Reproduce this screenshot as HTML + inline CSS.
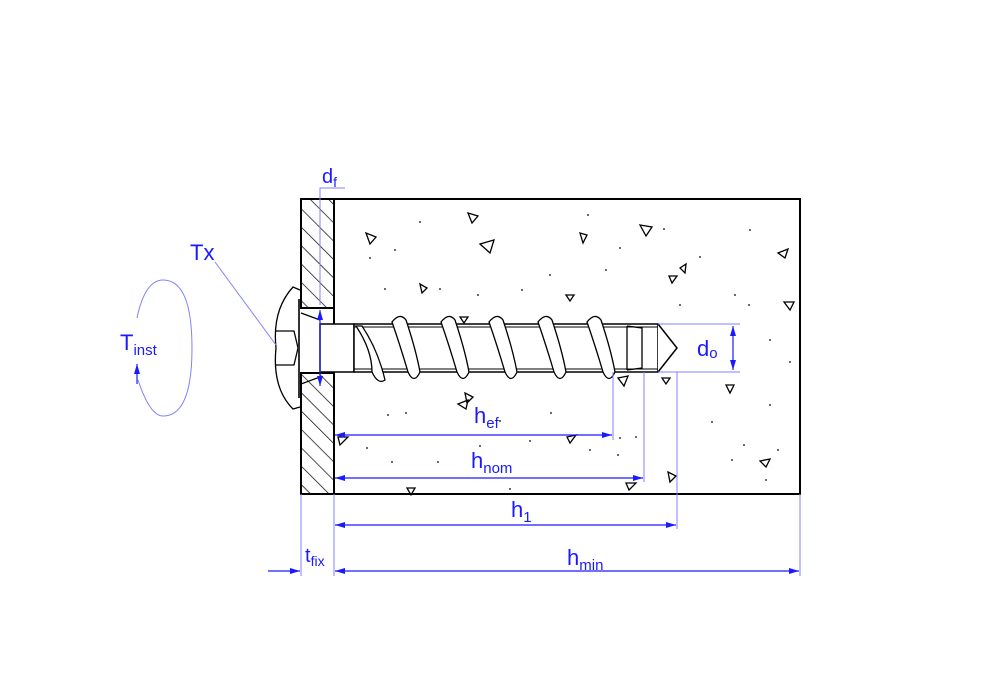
<!DOCTYPE html><html><head><style>body{margin:0;background:#fff}svg{display:block}text{font-family:"Liberation Sans",sans-serif;fill:#1a1aff}</style></head><body>
<svg width="1000" height="700" viewBox="0 0 1000 700" xmlns="http://www.w3.org/2000/svg">
<defs>
<pattern id="h" width="13" height="13" patternUnits="userSpaceOnUse" patternTransform="rotate(-45)"><line x1="0" y1="0" x2="0" y2="13" stroke="#000" stroke-width="1.4"/></pattern>
<marker id="a" viewBox="0 0 10 6" refX="10" refY="3" markerWidth="16" markerHeight="6" markerUnits="userSpaceOnUse" orient="auto-start-reverse"><path d="M0,0L10,3L0,6z" fill="#1a1aff"/></marker>
</defs>
<rect x="334" y="199" width="466" height="295" fill="#fff" stroke="#000" stroke-width="2"/>
<rect x="301" y="199" width="33" height="109" fill="url(#h)" stroke="#000" stroke-width="2"/>
<rect x="301" y="373" width="33" height="121" fill="url(#h)" stroke="#000" stroke-width="2"/>
<g fill="none" stroke="#000" stroke-width="1.3">
<path d="M366,233l10,4-6,7z"/><path d="M468,213l10,3-6,7z"/><path d="M480,244l14,-4-4,13z"/><path d="M580,233l7,2-4,8z"/><path d="M640,225l12,2-6,9z"/><path d="M680,268l6,-4-1,9z"/><path d="M669,276l8,0-5,7z"/><path d="M778,253l10,-4-3,9z"/><path d="M420,284l7,4-5,5z"/><path d="M566,295l8,0-4,6z"/><path d="M784,302l10,0-4,8z"/><path d="M460,317l8,0-4,6z"/><path d="M726,385l8,0-4,8z"/><path d="M465,393l8,4-6,6z"/><path d="M458,404l10,-4-2,9z"/><path d="M618,378l10,-2-4,10z"/><path d="M662,378l8,0-4,6z"/><path d="M338,437l10,0-8,8z"/><path d="M567,437l9,-2-6,8z"/><path d="M626,483l10,0-7,7z"/><path d="M668,472l8,4-6,6z"/><path d="M407,488l8,0-4,7z"/><path d="M760,461l10,-2-4,8z"/>
</g>
<g fill="#000">
<circle cx="370" cy="258" r=".9"/><circle cx="395" cy="250" r=".9"/><circle cx="420" cy="222" r=".9"/><circle cx="385" cy="289" r=".9"/><circle cx="440" cy="289" r=".9"/><circle cx="522" cy="290" r=".9"/><circle cx="550" cy="275" r=".9"/><circle cx="588" cy="215" r=".9"/><circle cx="620" cy="248" r=".9"/><circle cx="664" cy="229" r=".9"/><circle cx="700" cy="257" r=".9"/><circle cx="750" cy="230" r=".9"/><circle cx="749" cy="305" r=".9"/><circle cx="735" cy="295" r=".9"/><circle cx="680" cy="305" r=".9"/><circle cx="606" cy="270" r=".9"/><circle cx="478" cy="295" r=".9"/><circle cx="388" cy="415" r=".9"/><circle cx="406" cy="413" r=".9"/><circle cx="500" cy="421" r=".9"/><circle cx="551" cy="413" r=".9"/><circle cx="620" cy="438" r=".9"/><circle cx="712" cy="422" r=".9"/><circle cx="744" cy="445" r=".9"/><circle cx="770" cy="405" r=".9"/><circle cx="367" cy="448" r=".9"/><circle cx="392" cy="462" r=".9"/><circle cx="438" cy="462" r=".9"/><circle cx="480" cy="446" r=".9"/><circle cx="530" cy="441" r=".9"/><circle cx="590" cy="450" r=".9"/><circle cx="618" cy="455" r=".9"/><circle cx="636" cy="437" r=".9"/><circle cx="732" cy="460" r=".9"/><circle cx="778" cy="450" r=".9"/><circle cx="510" cy="489" r=".9"/><circle cx="766" cy="480" r=".9"/><circle cx="770" cy="340" r=".9"/><circle cx="790" cy="362" r=".9"/>
</g>
<path d="M300,290 L293,287 Q272,310 276,348 Q272,388 293,409 L300,407" fill="#fff" stroke="#000" stroke-width="1.3"/>
<path d="M276,331 L294,331 L298,348 L294,365 L276,365" fill="none" stroke="#000" stroke-width="1.3"/>
<line x1="299" y1="299" x2="299" y2="398" stroke="#333" stroke-width="2"/>
<path d="M301,313 L320,320 M301,384 L320,377" stroke="#000" stroke-width="1.2"/>
<rect x="320" y="324" width="34" height="48" fill="#fff" stroke="#000" stroke-width="1.5"/>
<rect x="354" y="324" width="304" height="48" fill="#fff" stroke="#000" stroke-width="1.5"/>
<line x1="354" y1="327" x2="658" y2="327" stroke="#000"/><line x1="354" y1="369" x2="658" y2="369" stroke="#000"/>
<path d="M658,324 L677,348 L658,372" fill="#fff" stroke="#000" stroke-width="1.5"/>
<path d="M627,326 L642,328 L642,368 L627,370 M627,326 L627,370" fill="none" stroke="#000" stroke-width="1.3"/>
<g fill="#fff" stroke="#000" stroke-width="1.3">
<path d="M356,326 Q372,350 372,372 Q378,385 385,380 Q378,350 362,326z"/>
<path d="M392,322 Q400,312 406,320 Q416,350 420,372 Q414,385 408,372 Q400,345 392,322z"/>
<path d="M441,322 Q449,312 455,320 Q465,350 469,372 Q463,385 457,372 Q449,345 441,322z"/>
<path d="M489,322 Q497,312 503,320 Q513,350 517,372 Q511,385 505,372 Q497,345 489,322z"/>
<path d="M538,322 Q546,312 552,320 Q562,350 566,372 Q560,385 554,372 Q546,345 538,322z"/>
<path d="M587,322 Q595,312 601,320 Q611,350 615,372 Q609,385 603,372 Q595,345 587,322z"/>
</g>
<g stroke="#8080ff" stroke-width="1" fill="none">
<path d="M320,305 L320,188 L345,188"/>
<path d="M658,324 L740,324 M658,372 L740,372"/>
<path d="M613,372 L613,440 M644,372 L644,482 M677,372 L677,529 M800,494 L800,576 M301,494 L301,576 M334,494 L334,576"/>
<path d="M215,262 L276,345"/>
<path d="M138,380 Q150,416 163,416 Q192,416 192,348 Q192,280 163,280 Q145,280 137,318"/>
</g>
<g stroke="#1a1aff" stroke-width="1.2" fill="none">
<line x1="320" y1="310" x2="320" y2="386" marker-start="url(#a)" marker-end="url(#a)"/>
<line x1="733" y1="326" x2="733" y2="370" marker-start="url(#a)" marker-end="url(#a)"/>
<line x1="335" y1="435" x2="612" y2="435" marker-start="url(#a)" marker-end="url(#a)"/>
<line x1="335" y1="478" x2="643" y2="478" marker-start="url(#a)" marker-end="url(#a)"/>
<line x1="335" y1="525" x2="676" y2="525" marker-start="url(#a)" marker-end="url(#a)"/>
<line x1="335" y1="571" x2="799" y2="571" marker-start="url(#a)" marker-end="url(#a)"/>
<line x1="268" y1="571" x2="300" y2="571" marker-end="url(#a)"/>
<line x1="137" y1="384" x2="137" y2="364" marker-end="url(#a)"/>
</g>
<text x="322" y="183" font-size="20">d<tspan font-size="14" dy="4">f</tspan></text>
<text x="190" y="260" font-size="22">Tx</text>
<text x="120" y="350" font-size="22">T<tspan font-size="15" dy="5">inst</tspan></text>
<text x="697" y="356" font-size="22">d<tspan font-size="15" dy="2">o</tspan></text>
<text x="474" y="423" font-size="22">h<tspan font-size="15" dy="5">ef</tspan></text>
<text x="471" y="468" font-size="22">h<tspan font-size="15" dy="5">nom</tspan></text>
<text x="511" y="517" font-size="22">h<tspan font-size="15" dy="5">1</tspan></text>
<text x="567" y="565" font-size="22">h<tspan font-size="15" dy="5">min</tspan></text>
<text x="305" y="562" font-size="20">t<tspan font-size="14" dy="4">fix</tspan></text>
</svg>
</body></html>
